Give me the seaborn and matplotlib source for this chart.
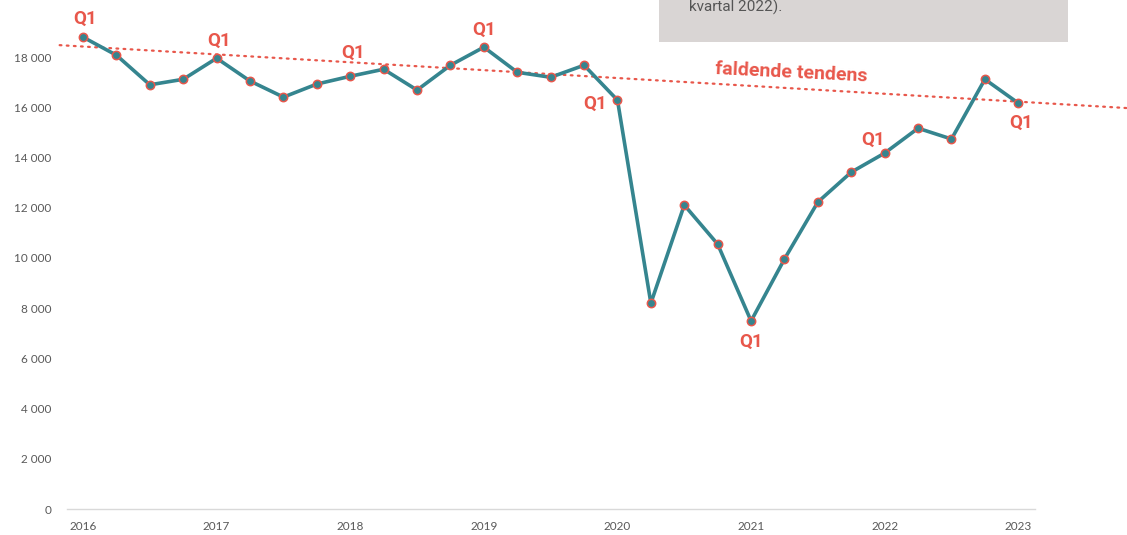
import numpy as np
import pandas as pd
import matplotlib
matplotlib.use("Agg")
import matplotlib.pyplot as plt
import seaborn as sns
from matplotlib.patches import Rectangle
from matplotlib.ticker import FuncFormatter

# ---- data ----
quarters = ["2016Q1","2016Q2","2016Q3","2016Q4","2017Q1","2017Q2","2017Q3","2017Q4",
            "2018Q1","2018Q2","2018Q3","2018Q4","2019Q1","2019Q2","2019Q3","2019Q4",
            "2020Q1","2020Q2","2020Q3","2020Q4","2021Q1","2021Q2","2021Q3","2021Q4",
            "2022Q1","2022Q2","2022Q3","2022Q4","2023Q1"]
values = [18800, 18080, 16900, 17120, 17960, 17050, 16410, 16930,
          17240, 17520, 16690, 17680, 18400, 17400, 17200, 17680,
          16290, 8200, 12110, 10550, 7490, 9960, 12230, 13420,
          14180, 15170, 14740, 17120, 16170]
year_labels = ["2016", "2017", "2018", "2019", "2020", "2021", "2022", "2023"]
y_ticks = [0, 2000, 4000, 6000, 8000, 10000, 12000, 14000, 16000, 18000]
trend_x = [-0.7, 31.3]
trend_y = [18480, 15970]
trend_label = "faldende tendens"
q1_label = "Q1"
box_text = "kvartal 2022)."

# ---- style ----
TEAL = "#35858f"
RED = "#e8574b"
GREY_TXT = "#595959"

sns.set_style("white")
plt.rcParams["font.family"] = ["Lato", "DejaVu Sans"]

fig = plt.figure(figsize=(11.27, 5.35), dpi=100)
ax = fig.add_axes([67/1127, 26/535, (1035-67)/1127, (509-7)/535])

df = pd.DataFrame({"idx": np.arange(len(values)), "val": values, "q": quarters})

# trend line (dotted, extends beyond axes)
ax.plot(trend_x, trend_y, color=RED, lw=1.6, linestyle=(0, (0.8, 2.4)),
        dash_capstyle="round", clip_on=False, zorder=2)

sns.lineplot(data=df, x="idx", y="val", ax=ax, color=TEAL, lw=2.6,
             marker="o", markersize=6, markerfacecolor=TEAL,
             markeredgecolor=RED, markeredgewidth=1.1, zorder=3)

ax.set_xlim(-0.48, 28.5)
ax.set_ylim(0, 20000)
ax.set_xticks(np.arange(0, len(values), 4))
ax.set_xticklabels(year_labels)
ax.set_yticks(y_ticks)
ax.yaxis.set_major_formatter(FuncFormatter(lambda v, p: f"{int(v):,}".replace(",", " ")))
ax.tick_params(axis="both", length=0, labelsize=8.5, labelcolor=GREY_TXT)
ax.tick_params(axis="y", pad=11)
ax.tick_params(axis="x", pad=9)
ax.set_xlabel("")
ax.set_ylabel("")
for s in ["top", "right", "left"]:
    ax.spines[s].set_visible(False)
ax.spines["bottom"].set_color("#d9d9d9")
ax.spines["bottom"].set_linewidth(1.0)

# Q1 labels
offsets = {0: (2, 18), 4: (2, 17), 8: (3, 23), 12: (0, 17), 16: (-22, -4),
           20: (0, -21), 24: (-12, 13), 28: (3, -20)}
for i, (dx, dy) in offsets.items():
    ax.annotate(q1_label, (i, values[i]), xytext=(dx, dy), textcoords="offset pixels",
                ha="center", va="center", color=RED, fontsize=13.5, fontweight="bold",
                family=["Roboto", "DejaVu Sans"], zorder=4)

# trend label
ax.annotate(trend_label, (21.2, 17400), xytext=(0, 0), textcoords="offset pixels",
            ha="center", va="center", color=RED, fontsize=14, fontweight="bold",
            rotation=-2.8, family=["Roboto", "DejaVu Sans"])

# grey box at top
fig.patches.append(Rectangle((659/1127, 1 - 42/535), (1068-659)/1127, 42/535 + 0.01,
                             transform=fig.transFigure, facecolor="#d9d5d4",
                             edgecolor="none", zorder=0))
fig.text(689/1127, 1 - 12/535, box_text, ha="left", va="baseline", fontsize=11,
         color="#555555", family=["Roboto", "DejaVu Sans"])

fig.savefig("out.png", dpi=100)
